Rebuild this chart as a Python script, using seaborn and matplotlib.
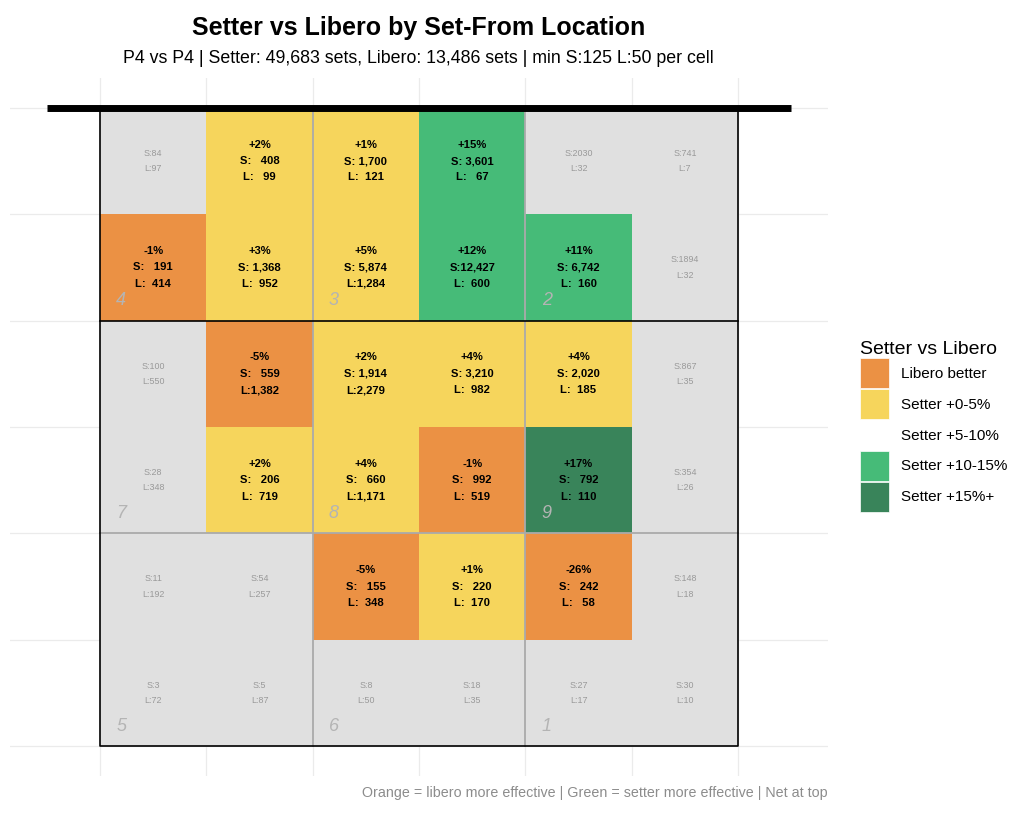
import numpy as np
import matplotlib
matplotlib.use("Agg")
import matplotlib.pyplot as plt
from matplotlib.colors import ListedColormap
from matplotlib.patches import Patch
import seaborn as sns

plt.rcParams['font.family'] = ['Liberation Sans', 'DejaVu Sans']

# set-from grid, row 1 = next to the net, columns left -> right
setter_counts = [
    [84, 408, 1700, 3601, 2030, 741],
    [191, 1368, 5874, 12427, 6742, 1894],
    [100, 559, 1914, 3210, 2020, 867],
    [28, 206, 660, 992, 792, 354],
    [11, 54, 155, 220, 242, 148],
    [3, 5, 8, 18, 27, 30],
]
libero_counts = [
    [97, 99, 121, 67, 32, 7],
    [414, 952, 1284, 600, 160, 32],
    [550, 1382, 2279, 982, 185, 35],
    [348, 719, 1171, 519, 110, 26],
    [192, 257, 348, 170, 58, 18],
    [72, 87, 50, 35, 17, 10],
]
# setter minus libero, in % points (None = below sample minimum)
pct_diff = [
    [None, 2, 1, 15, None, None],
    [-1, 3, 5, 12, 11, None],
    [None, -5, 2, 4, 4, None],
    [None, 2, 4, -1, 17, None],
    [None, None, -5, 1, -26, None],
    [None, None, None, None, None, None],
]
zone_labels = ['4', '3', '2', '7', '8', '9', '5', '6', '1']
zone_cells = [(0, 1), (2, 1), (4, 1), (0, 3), (2, 3), (4, 3), (0, 5), (2, 5), (4, 5)]

categories = ['Libero better', 'Setter +0-5%', 'Setter +5-10%', 'Setter +10-15%', 'Setter +15%+']
cat_colors = ['#EB9144', '#F6D55C', '#FFFFFF', '#46BB78', '#39845A']
grey = '#E0E0E0'

# category code per cell: 0 = not enough data
codes = np.zeros((6, 6))
for i in range(6):
    for j in range(6):
        p = pct_diff[i][j]
        if p is None:
            continue
        codes[i, j] = 1 + int(np.digitize(p, [0, 5.5, 10.5, 15.5]))

fig = plt.figure(figsize=(10.24, 8.18), dpi=100)
ax = fig.add_axes([0.0098, 0.0513, 0.7988, 0.8533])

cmap = ListedColormap([grey] + cat_colors)
sns.heatmap(codes, cmap=cmap, vmin=-0.5, vmax=5.5, cbar=False, ax=ax)

ax.set_xlim(-0.846, 6.846)
ax.set_ylim(6.28, -0.28)
ax.set_xticks(range(7))
ax.set_yticks(range(7))
ax.set_xticklabels([])
ax.set_yticklabels([])
ax.tick_params(length=0)
ax.grid(True, color='#EBEBEB', lw=0.9)
ax.set_axisbelow(True)
for s in ax.spines.values():
    s.set_visible(False)
ax.set_xlabel('')
ax.set_ylabel('')

# cell labels
for i in range(6):
    for j in range(6):
        p = pct_diff[i][j]
        s = setter_counts[i][j]
        l = libero_counts[i][j]
        if p is None:
            ax.text(j + 0.5, i + 0.5, f"S:{s}\nL:{l}", ha='center', va='center',
                    fontsize=6.4, color='#999999', linespacing=1.9)
        else:
            ax.text(j + 0.5, i + 0.5, f"{p:+d}%\nS:{s:>6,}\nL:{l:>5,}", ha='center',
                    va='center', fontsize=8.1, fontweight='bold', color='black',
                    linespacing=1.8)

# zone numbers
for z, (cx, cy) in zip(zone_labels, zone_cells):
    ax.text(cx + 0.2, cy + 0.81, z, ha='center', va='center', fontsize=13,
            style='italic', color='#B4B4B4')

# court lines
ax.plot([2, 2], [0, 6], color='#AAAAAA', lw=1.3)
ax.plot([4, 4], [0, 6], color='#AAAAAA', lw=1.3)
ax.plot([0, 6], [4, 4], color='#AAAAAA', lw=1.3)
ax.plot([0, 6], [2, 2], color='black', lw=1.2)
ax.plot([0, 6, 6, 0, 0], [0, 0, 6, 6, 0], color='black', lw=1.2)
ax.plot([-0.5, 6.5], [0, 0], color='black', lw=5, solid_capstyle='butt')

# titles
fig.text(0.409, 0.966, "Setter vs Libero by Set-From Location", ha='center', va='center',
         fontsize=18, fontweight='bold')
fig.text(0.409, 0.929, "P4 vs P4 | Setter: 49,683 sets, Libero: 13,486 sets | min S:125 L:50 per cell",
         ha='center', va='center', fontsize=12.8)
fig.text(0.8086, 0.030, "Orange = libero more effective | Green = setter more effective | Net at top",
         ha='right', va='center', fontsize=10.3, color='#8C8C8C')

# legend
handles = []
for lab, col in zip(categories, cat_colors):
    if lab == 'Setter +5-10%':
        handles.append(Patch(facecolor='none', edgecolor='none', label=lab))
    else:
        handles.append(Patch(facecolor=col, edgecolor='white', lw=0.5, label=lab))
leg = fig.legend(handles=handles, title='Setter vs Libero', loc='center left',
                 bbox_to_anchor=(0.826, 0.479), frameon=False, fontsize=11,
                 title_fontsize=14, handlelength=1.95, handleheight=2.65,
                 labelspacing=0.05, handletextpad=0.75, alignment='left')

fig.savefig('out.png', dpi=100)
